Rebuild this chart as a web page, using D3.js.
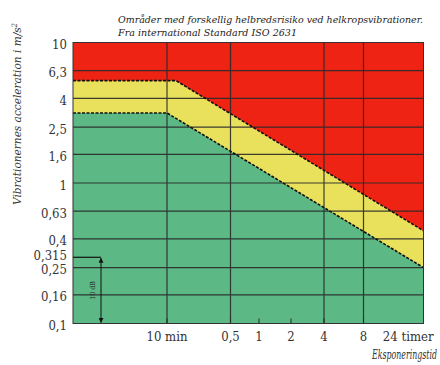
<!DOCTYPE html>
<html>
<head>
<meta charset="utf-8">
<script src="https://cdn.jsdelivr.net/npm/d3@7"></script>
<style>
  html, body { margin: 0; padding: 0; background: #fff; }
  svg { display: block; }
</style>
</head>
<body>
<div id="chart"></div>
<script>
// ---- data ----
const titleLines = ["Områder med forskellig helbredsrisiko ved helkropsvibrationer.", "Fra international Standard ISO 2631"];
const yLabel = "Vibrationernes acceleration i m/s";
const xLabel = "Eksponeringstid";

const yTicks = [10, 6.3, 4, 2.5, 1.6, 1, 0.63, 0.4, 0.315, 0.25, 0.16, 0.1];
const yTickLabels = ["10", "6,3", "4", "2,5", "1,6", "1", "0,63", "0,4", "0,315", "0,25", "0,16", "0,1"];
const yGrid = [6.3, 4, 2.5, 1.6, 1, 0.63, 0.4, 0.25, 0.16];

// exposure time in hours
const xTicks = [1 / 6, 0.5, 1, 2, 4, 8, 24];
const xTickLabels = ["10 min", "0,5", "1", "2", "4", "8", "24 timer"];
const xGrid = [1 / 6, 0.5, 4, 8];
const xStart = 0.03, xEnd = 24;

// zone boundaries (time in hours, acceleration m/s^2)
const upperTime = [xStart, 0.195, 24];
const upperAccel = [5.35, 5.35, 0.457];
const lowerTime = [xStart, 1 / 6, 24];
const lowerAccel = [3.15, 3.15, 0.25];

// 10 dB annotation
const annotTime = 0.05;
const annotTop = 0.296, annotBottom = 0.1;
const annotText = "10 dB";

// ---- layout ----
const W = 440, H = 365;
const L = 73, R = 423.5, T = 42.5, B = 323.5;
const FONT = "DejaVu Serif Condensed, DejaVu Serif, serif";

const svg = d3.select("#chart").append("svg").attr("width", W).attr("height", H)
  .style("font-family", FONT).style("font-stretch", "condensed");

const x = d3.scaleLog()
  .domain([xStart, 1 / 6, 0.5, 1, 2, 4, 8, xEnd])
  .range([L, 167, 230.5, 259, 291, 324, 363.5, R]);
const y = d3.scaleLog().domain([0.1, 10]).range([B, T]);

const colRed = "#ee2314", colYellow = "#e9e15c", colGreen = "#5cb884";

// background red zone
svg.append("rect").attr("x", x(xStart)).attr("y", y(10))
  .attr("width", x(xEnd) - x(xStart)).attr("height", y(0.1) - y(10))
  .attr("fill", colRed);

const upper = upperTime.map((t, i) => ({ t, a: upperAccel[i] }));
const lower = lowerTime.map((t, i) => ({ t, a: lowerAccel[i] }));

const area = d3.area().x(d => x(d.t)).y0(y(0.1)).y1(d => y(d.a));
const line = d3.line().x(d => x(d.t)).y(d => y(d.a));

svg.append("path").datum(upper).attr("d", area).attr("fill", colYellow);
svg.append("path").datum(lower).attr("d", area).attr("fill", colGreen);

// grid
const g = svg.append("g").attr("stroke", "#2a2a2a").attr("stroke-width", 1.2).attr("opacity", 0.9);
g.selectAll("line.h").data(yGrid).join("line")
  .attr("x1", x(xStart)).attr("x2", x(xEnd))
  .attr("y1", d => y(d)).attr("y2", d => y(d));
g.selectAll("line.v").data(xGrid).join("line")
  .attr("y1", y(10)).attr("y2", y(0.1))
  .attr("x1", d => x(d)).attr("x2", d => x(d));

// boundaries (dashed)
[upper, lower].forEach(dat => {
  svg.append("path").datum(dat).attr("d", line)
    .attr("fill", "none").attr("stroke", "#111").attr("stroke-width", 1.6)
    .attr("stroke-dasharray", "3,1.5");
});

// frame
svg.append("rect").attr("x", x(xStart)).attr("y", y(10))
  .attr("width", x(xEnd) - x(xStart)).attr("height", y(0.1) - y(10))
  .attr("fill", "none").attr("stroke", "#333").attr("stroke-width", 1);

// x ticks (inside)
svg.selectAll("line.xt").data(xTicks.slice(0, -1)).join("line")
  .attr("x1", d => x(d)).attr("x2", d => x(d))
  .attr("y1", y(0.1)).attr("y2", y(0.1) - 5)
  .attr("stroke", "#2a2a2a").attr("stroke-width", 1);

// y tick labels
svg.selectAll("text.yt").data(yTicks).join("text")
  .attr("x", 67).attr("y", d => y(d) + 2)
  .attr("text-anchor", "end").attr("dominant-baseline", "central")
  .attr("font-size", 13).attr("fill", "#333")
  .text((d, i) => yTickLabels[i]);

// x tick labels
svg.selectAll("text.xt").data(xTicks).join("text")
  .attr("x", (d, i) => i === xTicks.length - 1 ? x(d) + 10 : x(d))
  .attr("y", 341)
  .attr("text-anchor", (d, i) => i === xTicks.length - 1 ? "end" : "middle")
  .attr("font-size", 13).attr("fill", "#333")
  .text((d, i) => xTickLabels[i]);

// axis titles
const yt = svg.append("text")
  .attr("transform", `translate(21,${114}) rotate(-90)`)
  .attr("text-anchor", "middle").attr("font-style", "italic")
  .attr("font-size", 11.5).attr("fill", "#333")
  .attr("textLength", 182).attr("lengthAdjust", "spacingAndGlyphs");
yt.append("tspan").text(yLabel);
yt.append("tspan").attr("dy", -4).attr("font-size", 7.5).text("2");

// x axis title, horizontally squeezed to the reference width
const xl = svg.append("text").attr("x", 0).attr("y", 0)
  .attr("text-anchor", "start").attr("font-style", "italic")
  .attr("font-size", 12).attr("fill", "#333")
  .text(xLabel);
const xlW = xl.node().getComputedTextLength() || 65;
xl.attr("transform", `translate(372,359) scale(${65 / xlW},1)`);

// title
const titleLen = [305, 179];
svg.selectAll("text.title").data(titleLines).join("text")
  .attr("x", 118).attr("y", (d, i) => 23 + i * 13)
  .attr("font-style", "italic").attr("font-size", 10).attr("fill", "#222")
  .attr("textLength", (d, i) => titleLen[i]).attr("lengthAdjust", "spacingAndGlyphs")
  .text(d => d);

// 10 dB annotation
const ax = x(annotTime);
svg.append("defs").append("marker").attr("id", "arr")
  .attr("viewBox", "0 0 10 10").attr("refX", 9).attr("refY", 5)
  .attr("markerWidth", 5).attr("markerHeight", 5).attr("orient", "auto-start-reverse")
  .append("path").attr("d", "M0,0L10,5L0,10z").attr("fill", "#111");
svg.append("line").attr("x1", x(xStart)).attr("x2", ax)
  .attr("y1", y(annotTop)).attr("y2", y(annotTop))
  .attr("stroke", "#111").attr("stroke-width", 1.2);
svg.append("line").attr("x1", ax).attr("x2", ax)
  .attr("y1", y(annotTop) + 1).attr("y2", y(annotBottom) - 1)
  .attr("stroke", "#111").attr("stroke-width", 1)
  .attr("marker-start", "url(#arr)").attr("marker-end", "url(#arr)");
svg.append("text")
  .attr("transform", `translate(${ax - 6},${(y(annotTop) + y(annotBottom)) / 2}) rotate(-90)`)
  .attr("text-anchor", "middle").attr("font-size", 7).attr("fill", "#222")
  .text(annotText);
</script>
</body>
</html>
